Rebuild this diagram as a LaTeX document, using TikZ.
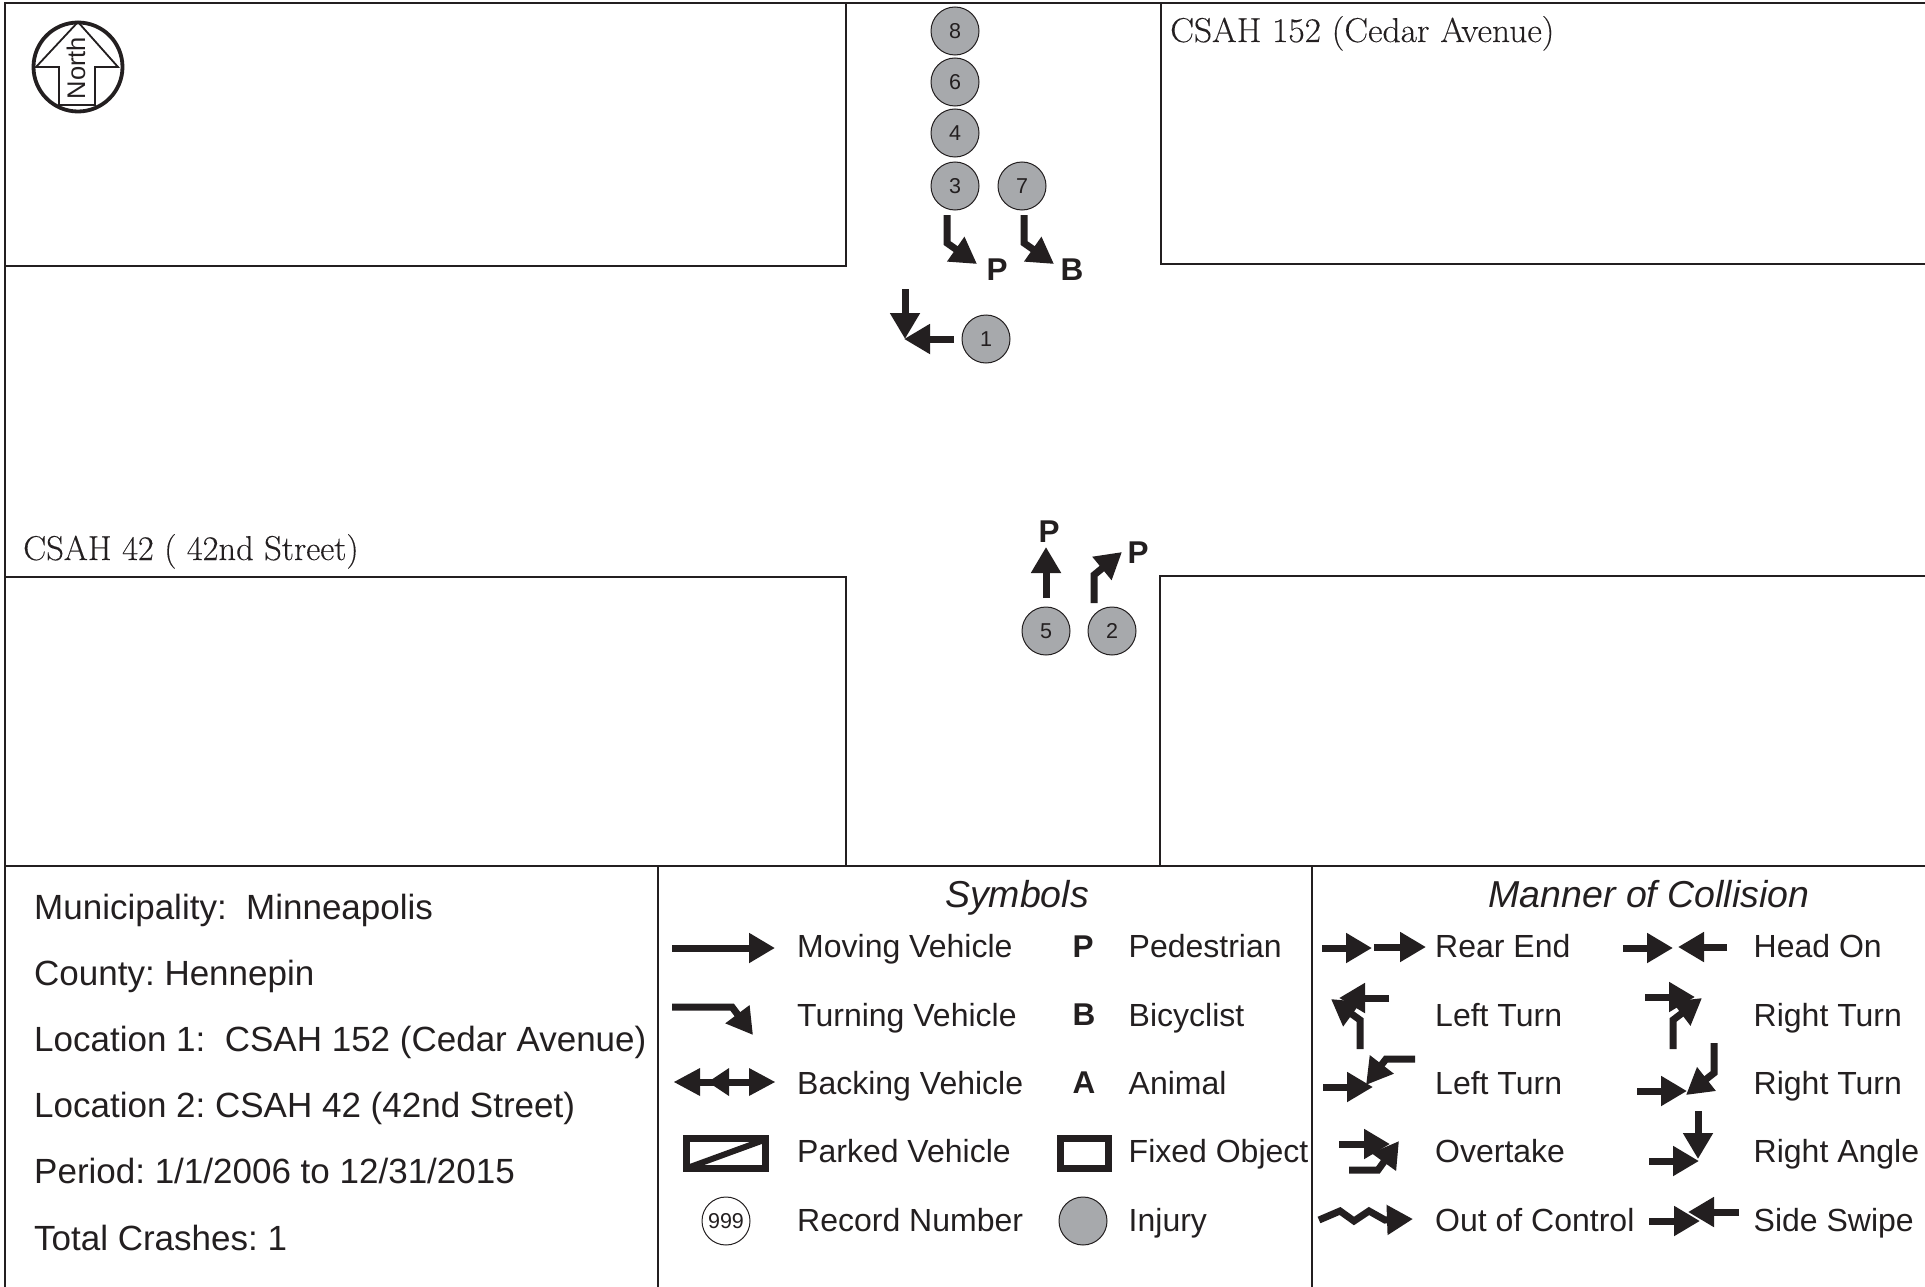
\documentclass[tikz,border=0pt]{standalone}
\usepackage{fontspec}
\setmainfont{Liberation Sans}
\newfontfamily\roadfont[FakeBold=0.25]{Latin Modern Roman}
\usetikzlibrary{arrows.meta}
\definecolor{ink}{HTML}{231F20}
\definecolor{injury}{HTML}{A7A9AC}
\frenchspacing
\tikzset{
  x=1pt,y=-1pt,
  road/.style={draw=ink,line width=2.5pt},
  rule/.style={draw=ink,line width=2.5pt},
  veh/.style={draw=ink,line width=7pt,line join=miter,
     -{Triangle[length=26pt,width=28.5pt,fill=ink]}},
  stem/.style={draw=ink,line width=7pt},
  injurydot/.style={circle,draw=ink,line width=1pt,fill=injury,minimum size=48pt,inner sep=0pt,
     text=ink,font=\fontsize{21.5}{24}\selectfont},
  recorddot/.style={circle,draw=ink,line width=1pt,fill=white,minimum size=48pt,inner sep=0pt,
     text=ink,font=\fontsize{21.5}{24}\selectfont},
  letter/.style={text=ink,anchor=base,inner sep=0pt,font=\fontsize{31.5}{36}\selectfont\bfseries},
  legend/.style={text=ink,anchor=base west,inner sep=0pt,font=\fontsize{32}{36}\selectfont},
  info/.style={text=ink,anchor=base west,inner sep=0pt,font=\fontsize{35}{40}\selectfont},
  heading/.style={text=ink,anchor=base,inner sep=0pt,font=\fontsize{37.5}{42}\selectfont\itshape},
  roadname/.style={text=ink,anchor=base west,inner sep=0pt,font=\fontsize{34.5}{38}\roadfont},
  box/.style={draw=ink,line width=7pt,fill=white},
}
\begin{document}
\begin{tikzpicture}
\useasboundingbox (0,0) rectangle (1925,1287);
% outer frame and road edges
\draw[road] (5,1287) -- (5,3) -- (1925,3);
\draw[road] (846,3) -- (846,266) -- (5,266);
\draw[road] (1161,3) -- (1161,264) -- (1925,264);
\draw[road] (5,577) -- (846,577) -- (846,866);
\draw[road] (1925,576) -- (1160,576) -- (1160,866);
\draw[rule] (5,866) -- (1925,866);
\draw[rule] (658,866) -- (658,1287);
\draw[rule] (1312,866) -- (1312,1287);
% north
\draw[ink,line width=3.8pt] (78,67) circle[radius=44.5];
\draw[ink,line width=1.8pt,line join=miter] (78,22) -- (118,67) -- (95,67) -- (95,105) -- (59,105) -- (59,67) -- (36,67) -- cycle;
\node[rotate=90,text=ink,inner sep=0pt,font=\fontsize{25.5}{30}\selectfont] (north) at (76,68) {North};
% road names
\node[roadname,xscale=1.03] (cedar) at (1170,42) {CSAH 152 (Cedar Avenue)};
\node[roadname] (street) at (23,560) {CSAH 42 ( 42nd Street)};
% crash circles
\node[injurydot] (c8) at (955,31) {8};
\node[injurydot] (c6) at (955,82) {6};
\node[injurydot] (c4) at (955,133) {4};
\node[injurydot] (c3) at (955,186) {3};
\node[injurydot] (c7) at (1022,186) {7};
\node[injurydot] (c1) at (986,339) {1};
\node[injurydot] (c5) at (1046,631) {5};
\node[injurydot] (c2) at (1112,631) {2};
% crash arrows
\draw[veh] (947,215) -- (947,243) -- (977,264);
\draw[veh] (1024,215) -- (1024,243) -- (1054,264);
\node[letter] (p3) at (997,280) {P};
\node[letter] (b7) at (1072,280) {B};
\draw[veh] (905,289) -- (905,339);
\draw[veh] (954,339) -- (904,339);
\draw[veh] (1046,598) -- (1046,547);
\draw[veh] (1094,603) -- (1094,575) -- (1122,552);
\node[letter] (p5) at (1049,542) {P};
\node[letter] (p2) at (1138,563) {P};
% info
\node[info] (i1) at (34,919) {Municipality:\ \ Minneapolis};
\node[info] (i2) at (34,985) {County: Hennepin};
\node[info] (i3) at (34,1051) {Location 1:\ \ CSAH 152 (Cedar Avenue)};
\node[info] (i4) at (34,1117) {Location 2: CSAH 42 (42nd Street)};
\node[info] (i5) at (34,1183) {Period: 1/1/2006 to 12/31/2015};
\node[info] (i6) at (34,1250) {Total Crashes: 1};
% headings
\node[heading] (h1) at (1017,907) {Symbols};
\node[heading] (h2) at (1649,907) {Manner of Collision};
% symbols column
\draw[veh] (672,948) -- (775,948);
\draw[veh] (672,1007) -- (732,1007) -- (753,1035);
\draw[stem] (695,1082) -- (755,1082);
\fill[ink] (674,1082) -- (700,1068) -- (700,1096) -- cycle;
\fill[ink] (708,1082) -- (729,1068) -- (729,1096) -- cycle;
\fill[ink] (775,1082) -- (749,1068) -- (749,1096) -- cycle;
\draw[box] (686.5,1138.5) rectangle (765.5,1168.5);
\draw[ink,line width=6pt] (690,1167) -- (764,1140);
\node[recorddot] (rec) at (726,1221) {999};
\node[legend] at (797,957) {Moving Vehicle};
\node[legend] at (797,1026) {Turning Vehicle};
\node[legend] at (797,1094) {Backing Vehicle};
\node[legend] at (797,1162) {Parked Vehicle};
\node[legend] at (797,1231) {Record Number};
\node[letter] (lp) at (1083,957) {P};
\node[letter] (lb) at (1084,1025) {B};
\node[letter] (la) at (1084,1093) {A};
\draw[box] (1060.5,1138.5) rectangle (1108.5,1168.5);
\node[injurydot] (inj) at (1083,1221) {};
\node[legend] at (1128.5,957) {Pedestrian};
\node[legend] at (1128.5,1026) {Bicyclist};
\node[legend] at (1128.5,1094) {Animal};
\node[legend] at (1128.5,1162) {Fixed Object};
\node[legend] at (1128.5,1231) {Injury};
% collision column 1
\draw[veh] (1322,948) -- (1372,948);
\draw[veh] (1374,947) -- (1426,947);
\draw[veh] (1389,998) -- (1339,998);
\draw[veh] (1360,1049) -- (1360,1020) -- (1331,999);
\draw[veh] (1323,1087) -- (1373,1087);
\draw[veh] (1415,1059) -- (1386,1059) -- (1366,1085);
\draw[veh] (1339,1144) -- (1390,1144);
\draw[veh] (1349,1170) -- (1378,1170) -- (1399,1141);
\draw[veh] (1319,1220) -- (1340,1211) -- (1354,1221) -- (1369,1211) -- (1385,1220) -- (1413,1219);
\node[legend] at (1435,957) {Rear End};
\node[legend] at (1435,1026) {Left Turn};
\node[legend] at (1435,1094) {Left Turn};
\node[legend] at (1435,1162) {Overtake};
\node[legend] at (1435,1231) {Out of Control};
% collision column 2
\draw[veh] (1623,948) -- (1673,948);
\draw[veh] (1727,947) -- (1678,947);
\draw[veh] (1645,997) -- (1695,997);
\draw[veh] (1673,1049) -- (1673,1020) -- (1702,998);
\draw[veh] (1637,1091) -- (1687,1091);
\draw[veh] (1714,1043) -- (1714,1073) -- (1686,1095);
\draw[veh] (1698,1111) -- (1698,1159);
\draw[veh] (1649,1161) -- (1699,1161);
\draw[veh] (1649,1221) -- (1700,1221);
\draw[veh] (1739,1212) -- (1688,1212);
\node[legend] at (1753.5,957) {Head On};
\node[legend] at (1753.5,1026) {Right Turn};
\node[legend] at (1753.5,1094) {Right Turn};
\node[legend] at (1753.5,1162) {Right Angle};
\node[legend] at (1753.5,1231) {Side Swipe};
\end{tikzpicture}
\end{document}
